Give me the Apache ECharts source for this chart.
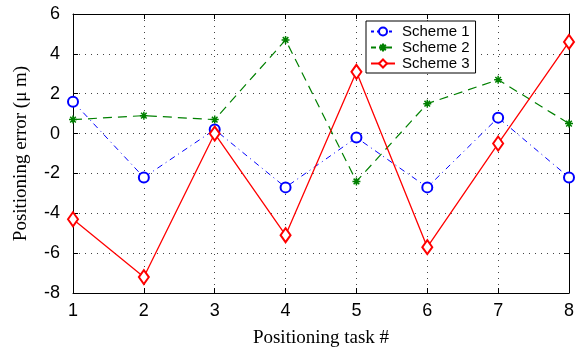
<!DOCTYPE html>
<html>
<head>
<meta charset="utf-8">
<script src="https://cdn.jsdelivr.net/npm/echarts@6/dist/echarts.min.js"></script>
<style>
  html, body { margin: 0; padding: 0; background: #fff; }
  #chart { width: 580px; height: 356px; }
</style>
</head>
<body>
<div id="chart"></div>
<script>
const tasks = [1, 2, 3, 4, 5, 6, 7, 8];
const scheme1 = [1.6, -2.2, 0.2, -2.7, -0.2, -2.7, 0.8, -2.2];
const scheme2 = [0.7, 0.9, 0.7, 4.7, -2.4, 1.5, 2.7, 0.5];
const scheme3 = [-4.3, -7.2, 0.0, -5.1, 3.1, -5.7, -0.5, 4.6];
const yTicks = [-8, -6, -4, -2, 0, 2, 4, 6];

const pairs = vals => tasks.map((t, i) => [t, vals[i]]);

// asterisk marker like matlab '*'
const star = 'path://M0,5L10,5M5,0L5,10M1.5,1.5L8.5,8.5M8.5,1.5L1.5,8.5';

const chart = echarts.init(document.getElementById('chart'));

const gridLine = { show: true, lineStyle: { color: '#444', type: [1, 5], width: 1 } };
const frameLine = { show: true, onZero: false, lineStyle: { color: '#000', width: 1 } };
const inTick = { show: true, inside: true, length: 5, lineStyle: { color: '#000' } };

const option = {
    animation: false,
    grid: { left: 73, right: 11, top: 14, bottom: 63 },
    legend: {
        orient: 'vertical',
        left: 366,
        top: 21,
        padding: [3, 6, 2, 4],
        itemGap: 1,
        itemWidth: 24,
        itemHeight: 10,
        backgroundColor: '#fff',
        borderColor: '#000',
        borderWidth: 1,
        borderRadius: 0,
        textStyle: { fontFamily: 'Liberation Sans', fontSize: 15, color: '#000', padding: [0, 0, 0, 2] },
        data: [
            { name: 'Scheme 1', lineStyle: { type: [3, 3] } },
            { name: 'Scheme 2', lineStyle: { type: [5, 3] } },
            { name: 'Scheme 3' }
        ]
    },
    xAxis: [
        {
            type: 'value', min: 1, max: 8, interval: 1,
            name: 'Positioning task #',
            nameLocation: 'middle',
            nameGap: 36,
            nameTextStyle: { fontFamily: 'Liberation Serif', fontSize: 19, color: '#000' },
            axisLine: frameLine, axisTick: inTick, splitLine: gridLine,
            axisLabel: { fontFamily: 'Liberation Sans', fontSize: 18, color: '#000', margin: 9 }
        },
        {
            type: 'value', min: 1, max: 8, interval: 1, position: 'top',
            axisLine: frameLine, axisTick: inTick, splitLine: { show: false },
            axisLabel: { show: false }
        }
    ],
    yAxis: [
        {
            type: 'value', min: yTicks[0], max: yTicks[yTicks.length - 1], interval: 2,
            name: 'Positioning error (μ m)',
            nameLocation: 'middle',
            nameGap: 42,
            nameTextStyle: { fontFamily: 'Liberation Serif', fontSize: 19, color: '#000' },
            axisLine: frameLine, axisTick: inTick, splitLine: gridLine,
            axisLabel: { fontFamily: 'Liberation Sans', fontSize: 18, color: '#000', margin: 13 }
        },
        {
            type: 'value', min: yTicks[0], max: yTicks[yTicks.length - 1], interval: 2, position: 'right',
            axisLine: frameLine, axisTick: inTick, splitLine: { show: false },
            axisLabel: { show: false }
        }
    ],
    series: [
        {
            name: 'Scheme 1', type: 'line', data: pairs(scheme1),
            symbol: 'emptyCircle', symbolSize: 10,
            lineStyle: { color: '#0000ff', width: 1, type: [6, 4, 1, 4] },
            itemStyle: { color: '#0000ff', borderColor: '#0000ff', borderWidth: 1.3 }
        },
        {
            name: 'Scheme 2', type: 'line', data: pairs(scheme2),
            symbol: star, symbolSize: 8,
            lineStyle: { color: '#008000', width: 1.2, type: [9, 6] },
            itemStyle: { color: '#008000', borderColor: '#008000', borderWidth: 1.5 }
        },
        {
            name: 'Scheme 3', type: 'line', data: pairs(scheme3),
            symbol: 'emptyDiamond', symbolSize: [10, 14],
            lineStyle: { color: '#ff0000', width: 1.3, type: 'solid' },
            itemStyle: { color: '#ff0000', borderColor: '#ff0000', borderWidth: 1.3 }
        }
    ]
};

chart.setOption(option);
</script>
</body>
</html>
